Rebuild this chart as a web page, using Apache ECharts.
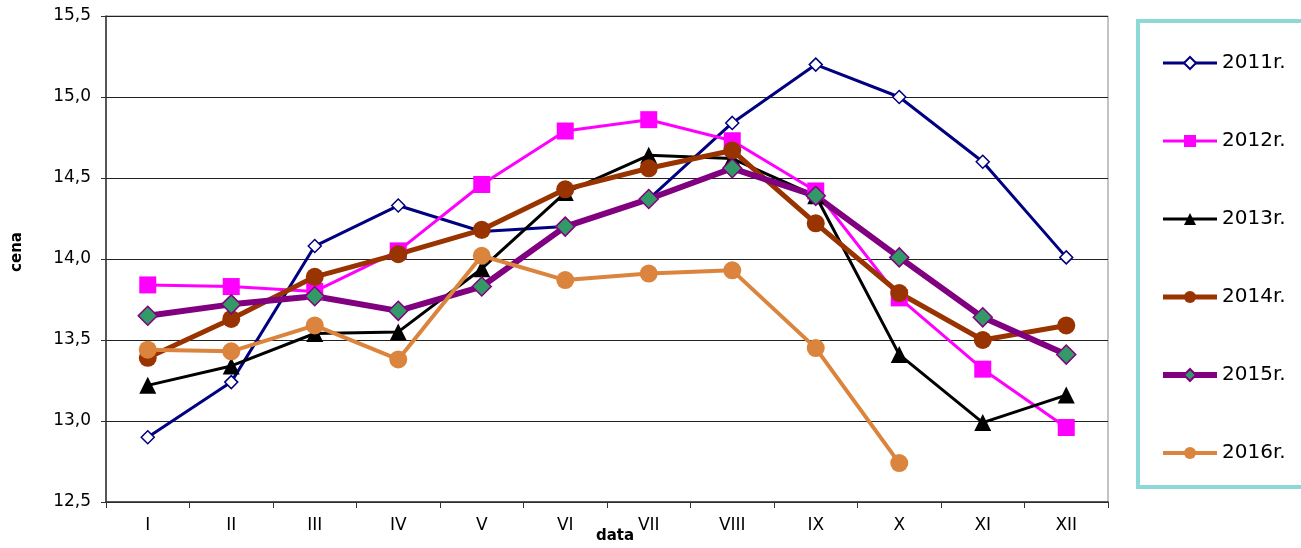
<!DOCTYPE html>
<html>
<head>
<meta charset="utf-8">
<script src="https://cdn.jsdelivr.net/npm/echarts@6/dist/echarts.min.js"></script>
<style>
  html, body { margin: 0; padding: 0; background: #fff; }
  #main { width: 1301px; height: 548px; }
</style>
</head>
<body>
<div id="main"></div>
<script>
// miesiace
var months = ['I', 'II', 'III', 'IV', 'V', 'VI', 'VII', 'VIII', 'IX', 'X', 'XI', 'XII'];

// ceny wg lat
var y2011 = [12.90, 13.24, 14.08, 14.33, 14.17, 14.20, 14.37, 14.84, 15.20, 15.00, 14.60, 14.01];
var y2012 = [13.84, 13.83, 13.80, 14.05, 14.46, 14.79, 14.86, 14.73, 14.42, 13.76, 13.32, 12.96];
var y2013 = [13.22, 13.34, 13.54, 13.55, 13.94, 14.41, 14.64, 14.62, 14.39, 13.41, 12.99, 13.16];
var y2014 = [13.39, 13.63, 13.89, 14.03, 14.18, 14.43, 14.56, 14.67, 14.22, 13.79, 13.50, 13.59];
var y2015 = [13.65, 13.72, 13.77, 13.68, 13.83, 14.20, 14.37, 14.56, 14.39, 14.01, 13.64, 13.41];
var y2016 = [13.44, 13.43, 13.59, 13.38, 14.02, 13.87, 13.91, 13.93, 13.45, 12.74, null, null];

var yTicks = { min: 12.5, max: 15.5, step: 0.5 };

var myChart = echarts.init(document.getElementById('main'));
var font = 'DejaVu Sans, Liberation Sans, Arial, sans-serif';

function serie(name, data, color, width, symbol, size, fill, border) {
    return {
        name: name,
        type: 'line',
        data: data,
        symbol: symbol,
        symbolSize: size,
        lineStyle: { color: color, width: width },
        itemStyle: { color: fill, borderColor: border, borderWidth: border ? 1.5 : 0 },
        emphasis: { disabled: true },
        z: 2
    };
}

// legenda - grubosc linii jak w seriach
var legendWidths = { '2011r.': 3, '2012r.': 3, '2013r.': 3, '2014r.': 5, '2015r.': 6, '2016r.': 4 };
var legendData = [];
for (var k in legendWidths) {
    legendData.push({ name: k, lineStyle: { width: legendWidths[k] } });
}

var option = {
    animation: false,
    textStyle: { fontFamily: font },
    grid: {
        left: 106, right: 193, top: 16, bottom: 46,
        outerBoundsMode: 'none',
        containLabel: false,
        show: true, borderColor: '#888', borderWidth: 1
    },
    graphic: [{
        type: 'rect',
        shape: { x: 1138, y: 21, width: 170, height: 466 },
        style: { fill: '#fff', stroke: '#8fd8d8', lineWidth: 4 },
        z: 0
    }],
    legend: {
        orient: 'vertical',
        left: 1160,
        top: 53,
        padding: 0,
        itemWidth: 54,
        itemHeight: 15,
        itemGap: 58,
        textStyle: { fontSize: 20, color: '#000', fontFamily: font },
        data: legendData
    },
    xAxis: {
        type: 'category',
        data: months,
        boundaryGap: true,
        name: 'data',
        nameLocation: 'middle',
        nameGap: 27,
        nameMoveOverlap: false,
        nameTextStyle: { fontWeight: 'bold', fontSize: 15, color: '#000', padding: [0, 0, 0, 16] },
        axisLine: { lineStyle: { color: '#333', width: 1.5 } },
        axisTick: { show: true, interval: 0, length: 6, lineStyle: { color: '#333' } },
        axisLabel: { fontSize: 17, color: '#000', margin: 15, interval: 0 },
        splitLine: { show: false }
    },
    yAxis: {
        type: 'value',
        min: yTicks.min,
        max: yTicks.max,
        interval: yTicks.step,
        name: 'cena',
        nameLocation: 'middle',
        nameRotate: 90,
        nameGap: 81,
        nameMoveOverlap: false,
        nameTextStyle: { fontWeight: 'bold', fontSize: 15, color: '#000', padding: [0, 0, 0, 14] },
        axisLine: { show: true, lineStyle: { color: '#333', width: 1.5 } },
        axisTick: { show: true, length: 5, lineStyle: { color: '#333' } },
        axisLabel: {
            fontSize: 17, color: '#000', margin: 15,
            formatter: function (v) { return v.toFixed(1).replace('.', ','); }
        },
        splitLine: { lineStyle: { color: '#222', width: 1 } }
    },
    series: [
        serie('2011r.', y2011, '#000080', 3, 'diamond', 13, '#fff', '#000080'),
        serie('2012r.', y2012, '#ff00ff', 3, 'rect', 17, '#ff00ff', null),
        serie('2013r.', y2013, '#000000', 3, 'triangle', 17, '#000000', null),
        serie('2014r.', y2014, '#993300', 5, 'circle', 18, '#993300', null),
        serie('2015r.', y2015, '#800080', 6, 'diamond', 19, '#339966', '#800080'),
        serie('2016r.', y2016, '#db843d', 4, 'circle', 18, '#db843d', null)
    ]
};

myChart.setOption(option);
</script>
</body>
</html>
